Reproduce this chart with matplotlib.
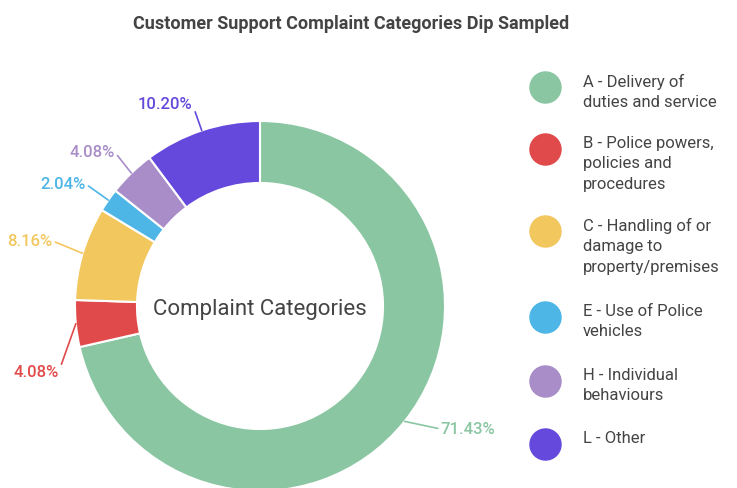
import numpy as np
import matplotlib
matplotlib.use("Agg")
import matplotlib.pyplot as plt

plt.rcParams['font.family'] = ['Roboto', 'DejaVu Sans']

# data
categories = ['A - Delivery of\nduties and service',
              'B - Police powers,\npolicies and\nprocedures',
              'C - Handling of or\ndamage to\nproperty/premises',
              'E - Use of Police\nvehicles',
              'H - Individual\nbehaviours',
              'L - Other']
shares = [71.43, 4.08, 8.16, 2.04, 4.08, 10.20]
colors = ['#8BC6A2', '#E04A4A', '#F2C75E', '#4DB6E6', '#A88DC8', '#6549DC']

W, H = 737, 489
fig = plt.figure(figsize=(W / 100, H / 100), dpi=100)
ax = fig.add_axes([0, 0, 1, 1])
ax.set_aspect('equal')

cx, cy, R = 260, H - 307, 185
wedges, _ = ax.pie(shares, colors=colors, startangle=90, counterclock=False,
                   center=(cx, cy), radius=R, frame=True,
                   wedgeprops=dict(width=R * 0.335, edgecolor='white', linewidth=1.5))
ax.set_xlim(0, W)
ax.set_ylim(0, H)
ax.axis('off')

ax.text(cx, cy - 3, 'Complaint Categories', ha='center', va='center',
        fontsize=16, color='#444444')

# percentage labels (pixel positions of text)
label_pos = [(468, 430), (36, 373), (30, 242), (63, 185), (92, 153), (165, 105)]
for w, s, c, (tx, ty) in zip(wedges, shares, colors, label_pos):
    ang = np.deg2rad((w.theta1 + w.theta2) / 2)
    px, py = cx + R * np.cos(ang), cy + R * np.sin(ang)
    ax.annotate(f'{s:.2f}%', xy=(px, py), xytext=(tx, H - ty),
                ha='center', va='center', fontsize=12, fontweight='medium', color=c,
                arrowprops=dict(arrowstyle='-', color=c, lw=1.2, shrinkA=0, shrinkB=0,
                                relpos=(1, 0.5) if tx < cx else (0, 0.5)))

ax.text(351, H - 24, 'Customer Support Complaint Categories Dip Sampled',
        ha='center', va='center', fontsize=13, fontweight='bold', color='#444444')

# legend
leg_y = [88, 150, 232, 318, 382, 445]
for lab, c, ly in zip(categories, colors, leg_y):
    ax.scatter([545], [H - ly], s=500, color=c, zorder=3)
    ax.text(583, H - ly + 14, lab, ha='left', va='top', fontsize=12,
            color='#444444', linespacing=1.45)

fig.savefig('out.png', dpi=100)
